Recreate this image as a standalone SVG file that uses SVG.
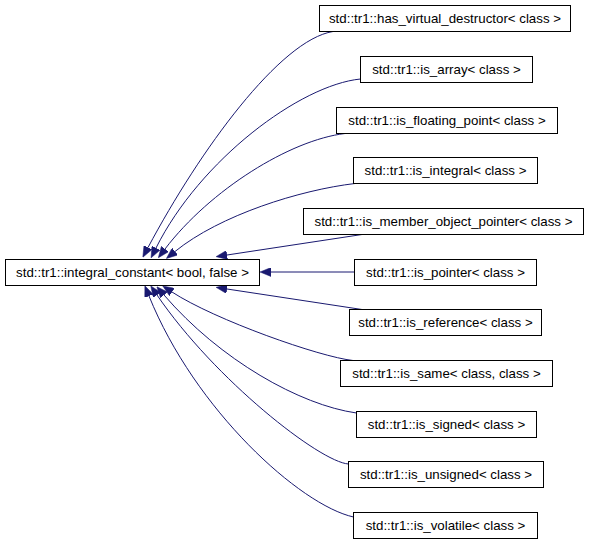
<svg xmlns="http://www.w3.org/2000/svg" width="589" height="544" viewBox="0 0 589 544">
<style>
.n rect{fill:#fff;stroke:#000;stroke-width:1}
.n text{font-family:"Liberation Sans",Arial,sans-serif;font-size:13.3px;fill:#000;text-anchor:middle}
.e path{fill:none;stroke:#191970;stroke-width:1;marker-end:url(#ah)}
</style>
<defs>
<marker id="ah" viewBox="0 0 11 9" refX="0" refY="4.5" markerWidth="11" markerHeight="9" markerUnits="userSpaceOnUse" orient="auto">
<path d="M0,0 L11,4.5 L0,9 z" fill="#191970" stroke="#191970" stroke-width="0.5"/>
</marker>
</defs>
<rect width="589" height="544" fill="#fff"/>
<g id="edges" class="e">
<path d="M333,31.5 C280,40 200,150 148,247.5"/>
<path d="M360.5,79 C300,85 200,160 156,248"/>
<path d="M345,133.5 C290,140 210,190 165,249"/>
<path d="M355,183.5 C300,190 220,215 175,251.5"/>
<path d="M362,234.5 L227,255"/>
<path d="M354,272 L271,272"/>
<path d="M362,309.5 L227,289"/>
<path d="M353,360.5 C320,357 215,320 172,292"/>
<path d="M356.5,413 C300,405 220,360 164,295"/>
<path d="M348.5,464 C320,462 215,380 157,295"/>
<path d="M353.5,517 C300,505 195,410 149,296"/>
</g>
<g id="integral_constant" class="n"><rect x="5.5" y="259.5" width="254" height="26"/><text x="132.5" y="277">std::tr1::integral_constant&lt; bool, false &gt;</text></g>
<g id="has_virtual_destructor" class="n"><rect x="319.5" y="5.5" width="251" height="26"/><text x="445" y="23">std::tr1::has_virtual_destructor&lt; class &gt;</text></g>
<g id="is_array" class="n"><rect x="360.5" y="56.5" width="172" height="26"/><text x="446.5" y="74">std::tr1::is_array&lt; class &gt;</text></g>
<g id="is_floating_point" class="n"><rect x="336.5" y="107.5" width="221" height="26"/><text x="447" y="125">std::tr1::is_floating_point&lt; class &gt;</text></g>
<g id="is_integral" class="n"><rect x="353.5" y="157.5" width="184" height="26"/><text x="445.5" y="175">std::tr1::is_integral&lt; class &gt;</text></g>
<g id="is_member_object_pointer" class="n"><rect x="303.5" y="208.5" width="280" height="26"/><text x="443.5" y="226">std::tr1::is_member_object_pointer&lt; class &gt;</text></g>
<g id="is_pointer" class="n"><rect x="354.5" y="259.5" width="182" height="26"/><text x="445.5" y="277">std::tr1::is_pointer&lt; class &gt;</text></g>
<g id="is_reference" class="n"><rect x="349.5" y="309.5" width="192" height="26"/><text x="445.5" y="327">std::tr1::is_reference&lt; class &gt;</text></g>
<g id="is_same" class="n"><rect x="340.5" y="360.5" width="212" height="26"/><text x="446.5" y="378">std::tr1::is_same&lt; class, class &gt;</text></g>
<g id="is_signed" class="n"><rect x="356.5" y="411.5" width="180" height="26"/><text x="446.5" y="429">std::tr1::is_signed&lt; class &gt;</text></g>
<g id="is_unsigned" class="n"><rect x="348.5" y="461.5" width="195" height="26"/><text x="446" y="479">std::tr1::is_unsigned&lt; class &gt;</text></g>
<g id="is_volatile" class="n"><rect x="353.5" y="512.5" width="184" height="26"/><text x="445.5" y="530">std::tr1::is_volatile&lt; class &gt;</text></g>
</svg>
